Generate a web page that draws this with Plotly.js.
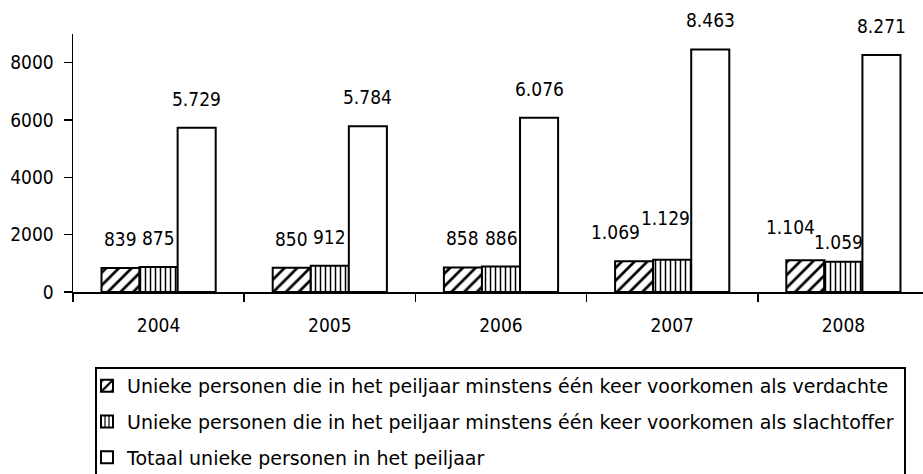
<!DOCTYPE html>
<html>
<head>
<meta charset="utf-8">
<script src="https://cdn.plot.ly/plotly-3.0.1.min.js"></script>
<style>html,body{margin:0;padding:0;background:#fff;}#chart{width:923px;height:474px;}</style>
</head>
<body>
<div id="chart"></div>
<script>
const years = ['2004', '2005', '2006', '2007', '2008'];
const seriesNames = [
  'Unieke personen die in het peiljaar minstens één keer voorkomen als verdachte',
  'Unieke personen die in het peiljaar minstens één keer voorkomen als slachtoffer',
  'Totaal unieke personen in het peiljaar'
];
const verdachte = [839, 850, 858, 1069, 1104];
const slachtoffer = [875, 912, 886, 1129, 1059];
const totaal = [5729, 5784, 6076, 8463, 8271];

const NUMFONT = '"DejaVu Sans Condensed", "DejaVu Sans", sans-serif';
const LEGFONT = '"DejaVu Sans", sans-serif';
const bargap = 0.333;
const barW = (1 - bargap) / 3;

// manual label nudges (px) for overlapping labels: key "series-year" -> [dx, dy]
const nudges = {
  '0-3': [-19, 0], '1-3': [-7, 13],
  '0-4': [-15, 4], '1-4': [-5, -9]
};

function fmt(v) {
  return String(v).replace(/\B(?=(\d{3})+(?!\d))/g, '.');
}

const patterns = [
  {shape: '/', fgcolor: '#000', bgcolor: '#fff', size: 9, solidity: 0.3, fillmode: 'replace'},
  {shape: '|', fgcolor: '#000', bgcolor: '#fff', size: 5, solidity: 0.3, fillmode: 'replace'},
  {shape: '', fgcolor: '#000', bgcolor: '#fff'}
];
const allSeries = [verdachte, slachtoffer, totaal];

const traces = allSeries.map((vals, k) => ({
  type: 'bar',
  name: seriesNames[k],
  legendgroup: 'g' + k,
  x: years,
  y: vals,
  marker: {color: '#fff', line: {color: '#000', width: 2}, pattern: patterns[k]},
  hoverinfo: 'none'
}));

const annotations = [];
allSeries.forEach((vals, k) => {
  vals.forEach((v, i) => {
    const n = nudges[k + '-' + i] || [0, 0];
    annotations.push({
      x: i + (k - 1) * barW,
      y: v,
      xref: 'x', yref: 'y',
      text: fmt(v),
      showarrow: false,
      yanchor: 'bottom',
      yshift: 16 + n[1],
      xshift: n[0],
      font: {family: NUMFONT, size: 19, color: '#000'}
    });
  });
});

const layout = {
  width: 923, height: 474,
  margin: {l: 73, r: 0, t: 34, b: 182, autoexpand: false},
  paper_bgcolor: '#fff', plot_bgcolor: '#fff',
  barmode: 'group', bargap: bargap, bargroupgap: 0,
  font: {family: NUMFONT, size: 19, color: '#000'},
  showlegend: true,
  legend: {
    xref: 'container', yref: 'container',
    x: 87 / 923, y: 1 - 367 / 474, xanchor: 'left', yanchor: 'top',
    borderwidth: 0, bgcolor: 'rgba(0,0,0,0)',
    font: {family: LEGFONT, size: 19, color: '#000'},
    traceorder: 'grouped', tracegroupgap: 8, itemwidth: 30
  },
  shapes: [{
    type: 'rect', xref: 'paper', yref: 'paper',
    x0: 23 / 850, x1: 832 / 850, y0: -0.2946, y1: -0.9,
    line: {color: '#000', width: 2}, fillcolor: 'rgba(0,0,0,0)', layer: 'below'
  }],
  xaxis: {
    type: 'category', range: [-0.5, 4.465],
    showline: true, linecolor: '#000', linewidth: 1.5,
    ticks: 'outside', tickson: 'boundaries', ticklen: 8, tickcolor: '#000', tickwidth: 1.5,
    ticklabelstandoff: 16,
    showgrid: false, zeroline: false, fixedrange: true
  },
  yaxis: {
    range: [0, 9000], tickvals: [0, 2000, 4000, 6000, 8000],
    showline: true, linecolor: '#000', linewidth: 1.5,
    ticks: 'outside', ticklen: 8, tickcolor: '#000', tickwidth: 1.5,
    ticklabelstandoff: 6,
    showgrid: false, zeroline: false, fixedrange: true
  },
  annotations: annotations
};

Plotly.newPlot('chart', traces, layout, {displayModeBar: false, staticPlot: true});
</script>
</body>
</html>
